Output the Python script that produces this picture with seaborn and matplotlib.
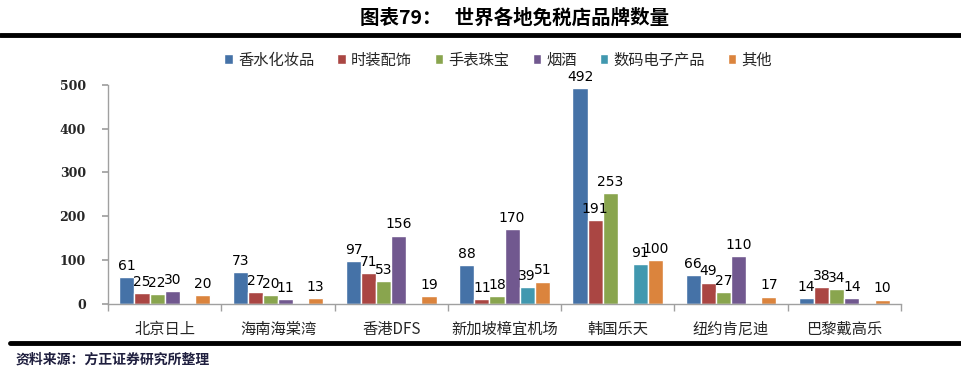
import matplotlib
matplotlib.use("Agg")
import matplotlib.pyplot as plt
from matplotlib.lines import Line2D
import seaborn as sns
import pandas as pd
import numpy as np

stores = ["北京日上", "海南海棠湾", "香港DFS", "新加坡樟宜机场", "韩国乐天", "纽约肯尼迪", "巴黎戴高乐"]
categories = ["香水化妆品", "时装配饰", "手表珠宝", "烟酒", "数码电子产品", "其他"]
perfume = [61, 73, 97, 88, 492, 66, 14]
fashion = [25, 27, 71, 11, 191, 49, 38]
jewelry = [22, 20, 53, 18, 253, 27, 34]
tobacco = [30, 11, 156, 170, 0, 110, 14]
digital = [0, 0, 0, 39, 91, 0, 0]
other = [20, 13, 19, 51, 100, 17, 10]
colors = ["#4572A7", "#AA4643", "#89A54E", "#71588F", "#4198AF", "#DB843D"]

series = [perfume, fashion, jewelry, tobacco, digital, other]
rows = []
for cat, vals in zip(categories, series):
    for s, v in zip(stores, vals):
        rows.append({"store": s, "cat": cat, "count": v})
df = pd.DataFrame(rows)

sns.set_theme(style="white")
plt.rcParams["font.family"] = ["Noto Sans CJK SC", "DejaVu Sans"]

fig = plt.figure(figsize=(9.62, 3.75), dpi=100)
ax = fig.add_axes([0.1123, 0.1893, 0.8243, 0.585])

sns.barplot(data=df, x="store", y="count", hue="cat", order=stores,
            hue_order=categories, palette=colors, width=0.8, saturation=1,
            ax=ax, errorbar=None)

for cont in ax.containers:
    labels = [f"{int(v)}" if v > 0 else "" for v in cont.datavalues]
    ax.bar_label(cont, labels=labels, padding=3, fontsize=10,
                 family="DejaVu Sans", color="black")

handles, labels = ax.get_legend_handles_labels()
ax.get_legend().remove()
fig.legend(handles, labels, loc="center", bbox_to_anchor=(0.518, 0.84), ncol=6,
           frameon=False, fontsize=11, handlelength=0.55, handleheight=0.55,
           handletextpad=0.35, columnspacing=1.5)

ax.set_ylim(0, 500)
ax.set_xlim(-0.5, len(stores) - 0.5)
ax.set_yticks([0, 100, 200, 300, 400, 500])
ax.set_yticklabels(["0", "100", "200", "300", "400", "500"],
                   family="DejaVu Serif", fontweight="bold", fontsize=9)
ax.set_xlabel("")
ax.set_ylabel("")
ax.tick_params(axis="x", which="major", length=0, labelsize=11, pad=12)
ax.set_xticks(np.arange(-0.5, len(stores), 1.0), minor=True)
ax.tick_params(axis="x", which="minor", length=5, color="#A0A0A0", direction="out", bottom=True)
ax.tick_params(axis="y", which="major", length=4, color="#A0A0A0", direction="out", left=True, pad=12)
for side in ["top", "right"]:
    ax.spines[side].set_visible(False)
for side in ["left", "bottom"]:
    ax.spines[side].set_color("#A0A0A0")
    ax.spines[side].set_linewidth(1)

fig.text(0.535, 0.953, "图表79：   世界各地免税店品牌数量", ha="center", va="center",
         fontsize=14, fontweight="bold", color="black")
fig.add_artist(Line2D([0, 1], [0.906, 0.906], transform=fig.transFigure, lw=3.5, color="black"))
fig.add_artist(Line2D([0.01, 1], [0.085, 0.085], transform=fig.transFigure, lw=3.5, color="black"))
fig.text(0.016, 0.04, "资料来源：方正证券研究所整理", ha="left", va="center",
         fontsize=10, fontstyle="italic", fontweight="bold", color="#1F1F3F")

fig.savefig("out.png", dpi=100)
